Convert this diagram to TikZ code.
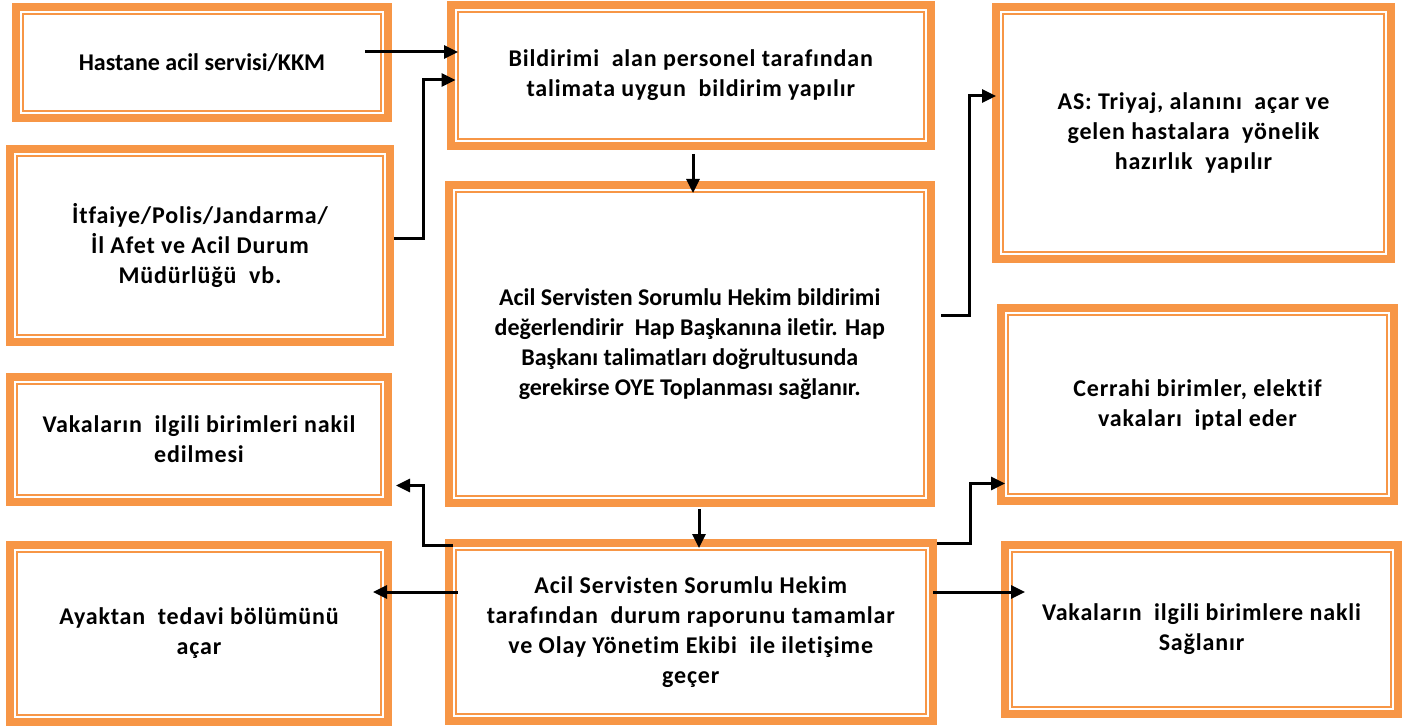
\documentclass[tikz,border=0pt]{standalone}
\usepackage{fontspec}
\setmainfont{Carlito}[Ligatures=NoCommon]
\newfontfamily\widefont{Carlito}[Ligatures=NoCommon, LetterSpace=3.5]
\usetikzlibrary{arrows.meta}

\definecolor{boxorange}{HTML}{F79646}

\tikzset{
  flowbox/.style={draw=boxorange, line width=8pt, fill=white, align=center,
    inner sep=0pt, font=\bfseries\fontsize{24}{30}\selectfont,
    path picture={\draw[boxorange, line width=2pt]
      ([xshift=7pt,yshift=-7pt]path picture bounding box.north west) rectangle
      ([xshift=-7pt,yshift=7pt]path picture bounding box.south east);}},
  widebox/.style={flowbox, font=\widefont\bfseries\fontsize{24}{30}\selectfont},
  flow/.style={-{Triangle[length=14pt,width=13pt]}, line width=3pt, line join=miter}
}

\begin{document}
\begin{tikzpicture}[x=1pt, y=-1pt]
        \useasboundingbox (0,0) rectangle (1415,727);

        % Left column
        \node[flowbox, minimum width=372pt, minimum height=111pt] (hastane) at (202,62.5)
          {Hastane acil servisi/KKM};
        \node[widebox, minimum width=380pt, minimum height=193pt] (itfaiye) at (200,245.5)
          {İtfaiye/Polis/Jandarma/\\İl Afet ve Acil Durum\\Müdürlüğü~ vb.};
        \node[widebox, minimum width=378pt, minimum height=125pt] (nakil) at (199,439.5)
          {Vakaların~ ilgili birimleri nakil\\edilmesi};
        \node[widebox, minimum width=378pt, minimum height=177pt] (ayaktan) at (199,633.5)
          {Ayaktan~ tedavi bölümünü\\açar};

        % Middle column
        \node[widebox, minimum width=480.5pt, minimum height=141pt] (bildirim) at (690.75,75.5)
          {Bildirimi~ alan personel tarafından\\talimata uygun~ bildirim yapılır};
        \node[flowbox, minimum width=482.5pt, minimum height=318pt] (hekim) at (689.75,344)
          {Acil Servisten Sorumlu Hekim bildirimi\\değerlendirir~ Hap Başkanına iletir. Hap\\Başkanı talimatları doğrultusunda\\gerekirse OYE Toplanması sağlanır.};
        \node[widebox, minimum width=484.5pt, minimum height=178pt] (rapor) at (690.75,632)
          {Acil Servisten Sorumlu Hekim\\tarafından~ durum raporunu tamamlar\\ve Olay Yönetim Ekibi~ ile iletişime\\geçer};

        % Right column
        \node[widebox, minimum width=395pt, minimum height=252pt] (triyaj) at (1193.5,133)
          {AS: Triyaj, alanını~ açar ve\\gelen hastalara~ yönelik\\hazırlık~ yapılır};
        \node[widebox, minimum width=393pt, minimum height=193pt] (cerrahi) at (1197.5,404.5)
          {Cerrahi birimler, elektif\\vakaları~ iptal eder};
        \node[widebox, minimum width=393pt, minimum height=169pt] (nakli) at (1201.5,629.5)
          {Vakaların~ ilgili birimlere nakli\\Sağlanır};

        % Connectors
        \draw[flow] ([xshift=-27pt,yshift=10.5pt]hastane.east) -- ([xshift=11.5pt,yshift=23.5pt]bildirim.west);
        \draw[flow] ([yshift=6.5pt]itfaiye.east) -- ++(29pt,0) |- ([xshift=9pt,yshift=-4.5pt]bildirim.west);
        \draw[flow] ([xshift=2.25pt,yshift=-4pt]bildirim.south) -- ([xshift=3.25pt,yshift=-12pt]hekim.north);
        \draw[flow] ([xshift=6pt,yshift=29pt]hekim.east) -- ++(28pt,0) |- ([xshift=4pt,yshift=37pt]triyaj.west);
        \draw[flow] ([xshift=9.25pt,yshift=-2pt]hekim.south) -- ([xshift=8.25pt,yshift=-9pt]rapor.north);
        \draw[flow] ([xshift=8.5pt,yshift=-6pt]rapor.north west) -- ++(-30pt,0) |- ([xshift=4pt,yshift=-46pt]nakil.east);
        \draw[flow] ([yshift=-4pt]rapor.north east) -- ++(33pt,0) |- ([xshift=8pt,yshift=-79pt]cerrahi.west);
        \draw[flow] ([xshift=13pt,yshift=40pt]rapor.west) -- ([xshift=-19pt,yshift=41.5pt]ayaktan.east);
        \draw[flow] ([xshift=-4pt,yshift=40pt]rapor.east) -- ([xshift=24pt,yshift=37.5pt]nakli.west);
\end{tikzpicture}
\end{document}
